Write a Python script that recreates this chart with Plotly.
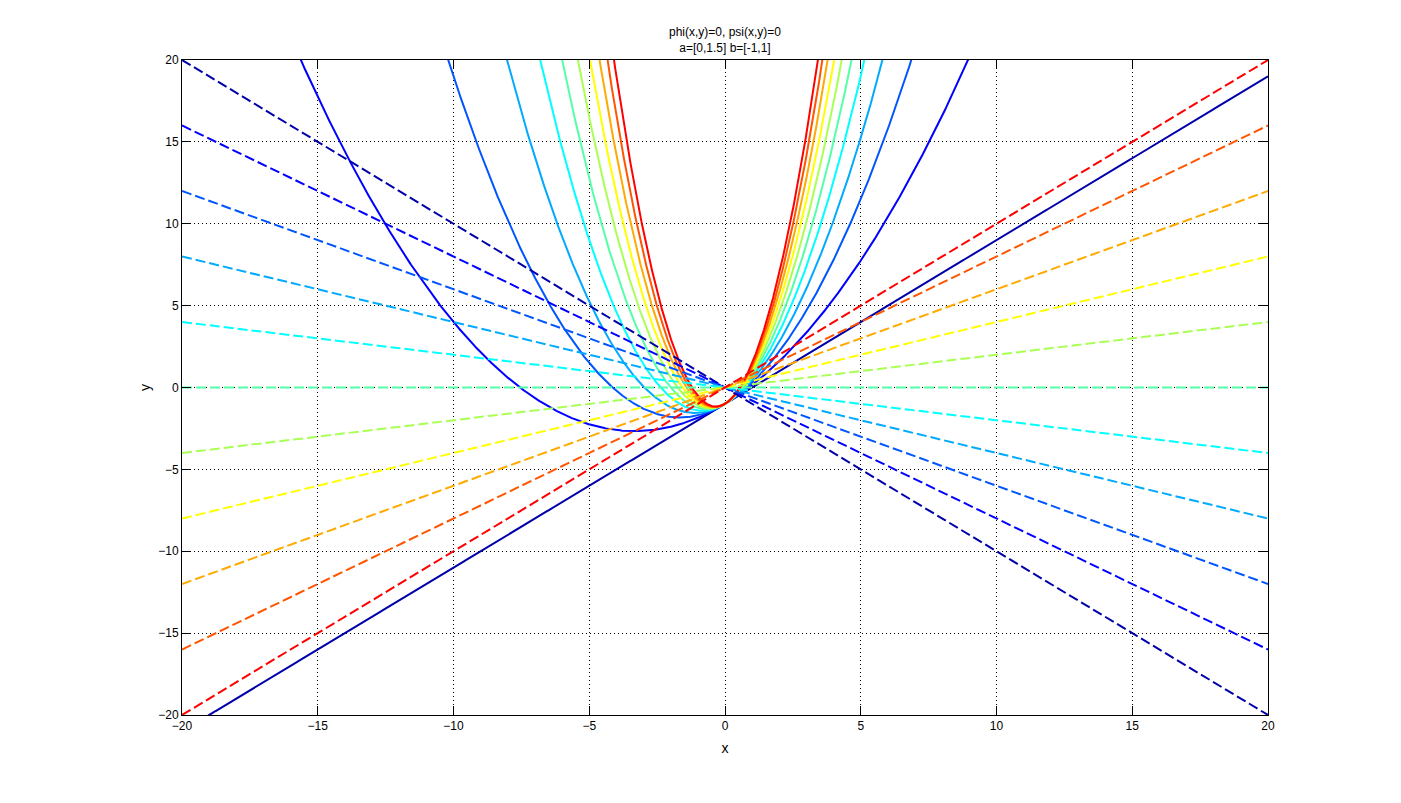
import numpy as np
import plotly.graph_objects as go

# Parameters
a_values = [0.0, 0.15, 0.30, 0.45, 0.60, 0.75, 0.90, 1.05, 1.20, 1.35, 1.50]   # solid curves y = a*x^2 + x - 1
b_values = [-1.0, -0.8, -0.6, -0.4, -0.2, 0.0, 0.2, 0.4, 0.6, 0.8, 1.0]         # dashed lines y = b*x
jet11 = ["#0000AA", "#0000FF", "#0055FF", "#00AAFF", "#00FFFF", "#55FFAA",
         "#AAFF55", "#FFFF00", "#FFAA00", "#FF5500", "#FF0000"]
tick_vals = [-20, -15, -10, -5, 0, 5, 10, 15, 20]
title_lines = ["phi(x,y)=0, psi(x,y)=0", "a=[0,1.5] b=[-1,1]"]

x_dom = np.linspace(-20, 20, 4001)

fig = go.Figure()
for a, c in zip(a_values, jet11):
    y = a * x_dom**2 + x_dom - 1
    m = y <= 25
    fig.add_trace(go.Scatter(x=x_dom[m], y=y[m], mode="lines",
                             line=dict(color=c, width=2), showlegend=False, hoverinfo="skip"))
for b, c in zip(b_values, jet11):
    fig.add_trace(go.Scatter(x=[-20, 20], y=[-20 * b, 20 * b], mode="lines",
                             line=dict(color=c, width=2, dash="10px,4px"), showlegend=False, hoverinfo="skip"))

axis_common = dict(range=[-20, 20], tickvals=tick_vals, ticks="inside", ticklen=9, tickcolor="black",
                   showline=True, linecolor="black", linewidth=1, mirror="ticks",
                   showgrid=True, gridcolor="black", gridwidth=1, griddash="1px,3px",
                   zeroline=False, tickfont=dict(family="Liberation Sans, Arial", size=12, color="black"))

fig.update_layout(
    width=1401, height=803,
    margin=dict(l=182, r=133, t=60, b=88),
    paper_bgcolor="white", plot_bgcolor="white",
    font=dict(family="Liberation Sans, Arial", size=12, color="black"),
    title=dict(text="<br>".join(title_lines), x=0.5, xref="paper", xanchor="center",
               y=1 - 36 / 803, yref="container", yanchor="middle",
               font=dict(size=12, color="black")),
    xaxis=dict(**axis_common, title=dict(text="x", standoff=10)),
    yaxis=dict(**axis_common, title=dict(text="y", standoff=4)),
)

fig.write_html("out.html")
